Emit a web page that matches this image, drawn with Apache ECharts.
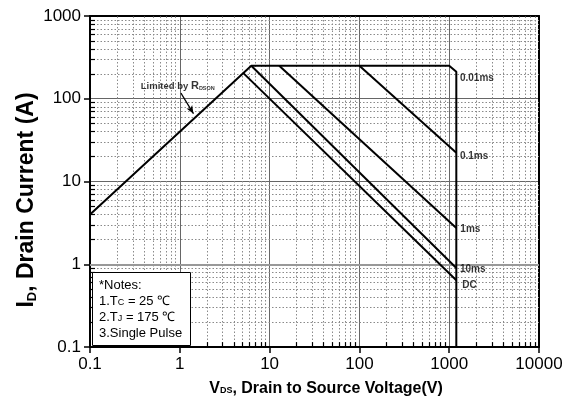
<!DOCTYPE html>
<html><head><meta charset="utf-8">
<script src="https://cdn.jsdelivr.net/npm/echarts@6/dist/echarts.min.js"></script>
<style>html,body{margin:0;padding:0;background:#fff}#c{width:578px;height:400px}</style>
</head><body><div id="c"></div>
<script>
// ---- data ----
const xTickLabels = ['0.1','1','10','100','1000','10000'];
const yTickLabels = ['0.1','1','10','100','1000'];
const decadesX = [0.1, 1, 10, 100, 1000];
const decadesY = [0.1, 1, 10, 100];
const minorMult = [2, 3, 4, 5, 6, 7, 8, 9];
const envelope = [[0.1, 4], [6.25, 250], [1000, 250], [1200, 212], [1200, 0.1]];
const line01ms = [[100, 250], [1200, 22.3]];
const line1ms = [[12.8, 250], [1200, 2.75]];
const line10ms = [[6.25, 250], [1200, 0.9]];
const lineDC = [[5.1, 204], [1200, 0.64]];
const curveLabels = [[1318, 176, '0.01ms'], [1318, 20.2, '0.1ms'], [1330, 2.65, '1ms'], [1318, 0.86, '10ms'], [1400, 0.56, 'DC']];
const rdsLabel = [0.95, 141];
const rdsArrow = [[1.03, 117], [1.42, 66]];

const FONT = '"Liberation Sans", Arial, sans-serif';
const chart = echarts.init(document.getElementById('c'), null, {renderer: 'canvas'});

const minorX = [], minorY = [];
decadesX.forEach(d => minorMult.forEach(m => minorX.push(+(d * m).toPrecision(3))));
decadesY.forEach(d => minorMult.forEach(m => minorY.push(+(d * m).toPrecision(3))));

const gridDots = [];
minorX.forEach(v => gridDots.push({xAxis: v}));
minorY.forEach(v => gridDots.push({yAxis: v}));

const ticks = [];
minorX.forEach(v => ticks.push([{coord: [v, 0.1]}, {coord: [v, 0.1145]}]));
minorY.forEach(v => ticks.push([{coord: [0.1, v]}, {coord: [0.1137, v]}]));

const lineStyle = {color: '#000', width: 2};
function lineSeries(data) {
  return {type: 'line', data: data, showSymbol: false, symbol: 'none', lineStyle: lineStyle, z: 5, silent: true, animation: false};
}

const logAxisBase = {
  type: 'log', logBase: 10,
  axisLine: {show: true, onZero: false, lineStyle: {color: '#000', width: 2}},
};

chart.setOption({
  animation: false,
  grid: {left: 90, right: 39, top: 16, bottom: 53, containLabel: false},
  xAxis: [
    Object.assign({}, logAxisBase, {
      min: 0.1, max: 10000, position: 'bottom',
      axisTick: {show: true, inside: false, length: 6, lineStyle: {color: '#000', width: 1.5}},
      axisLabel: {fontFamily: FONT, fontSize: 17, color: '#000', margin: 9,
        formatter: v => { const i = Math.round(Math.log10(v)) + 1; return xTickLabels[i] || ''; }},
      splitLine: {show: true, lineStyle: {color: '#666', width: 1}},
      minorTick: {show: false}, minorSplitLine: {show: false}
    }),
    Object.assign({}, logAxisBase, {
      min: 0.1, max: 10000, position: 'top',
      axisTick: {show: false}, axisLabel: {show: false}, splitLine: {show: false}
    })
  ],
  yAxis: [
    Object.assign({}, logAxisBase, {
      min: 0.1, max: 1000, position: 'left',
      axisTick: {show: true, inside: false, length: 6, lineStyle: {color: '#000', width: 1.5}},
      axisLabel: {fontFamily: FONT, fontSize: 17, color: '#000', margin: 9,
        formatter: v => { const i = Math.round(Math.log10(v)) + 1; return yTickLabels[i] || ''; }},
      splitLine: {show: true, lineStyle: {color: '#666', width: 1}},
      minorTick: {show: false}, minorSplitLine: {show: false}
    }),
    Object.assign({}, logAxisBase, {
      min: 0.1, max: 1000, position: 'right',
      axisTick: {show: false}, axisLabel: {show: false}, splitLine: {show: false}
    })
  ],
  series: [
    {
      type: 'line', data: [], silent: true, z: 1,
      markLine: {
        silent: true, symbol: ['none', 'none'], label: {show: false}, animation: false,
        lineStyle: {color: '#8a8a8a', width: 1, type: [1.5, 2]},
        data: gridDots
      }
    },
    {
      type: 'line', data: [], silent: true, z: 2,
      markLine: {
        silent: true, symbol: ['none', 'none'], label: {show: false}, animation: false,
        lineStyle: {color: '#999', width: 2, type: 'solid'},
        data: [{yAxis: 1}]
      }
    },
    {
      type: 'line', data: [], silent: true, z: 6,
      markLine: {
        silent: true, symbol: ['none', 'none'], label: {show: false}, animation: false,
        lineStyle: {color: '#000', width: 1.2, type: 'solid'},
        data: ticks
      }
    },
    lineSeries(envelope),
    lineSeries(line01ms),
    lineSeries(line1ms),
    lineSeries(line10ms),
    lineSeries(lineDC),
    {
      type: 'line', data: [], silent: true, z: 6,
      markLine: {
        silent: true, symbol: ['none', 'arrow'], symbolSize: [5, 8], label: {show: false}, animation: false,
        lineStyle: {color: '#000', width: 1.2, type: 'solid'},
        data: [[{coord: rdsArrow[0]}, {coord: rdsArrow[1]}]]
      }
    },
    {
      type: 'scatter', symbolSize: 0, silent: true, z: 7,
      data: curveLabels.map(d => ({value: [d[0], d[1]], name: d[2]})),
      label: {show: true, position: 'right', distance: 0, formatter: p => p.name,
        fontFamily: FONT, fontSize: 10, fontWeight: 'bold', color: '#000'}
    },
    {
      type: 'scatter', symbolSize: 0, silent: true, z: 7,
      data: [{value: rdsLabel}],
      label: {show: true, position: 'inside', formatter: 'Limited by {s|R}{sub|DSON}',
        fontFamily: FONT, fontSize: 9.5, fontWeight: 'bold', color: '#000',
        rich: {
          s: {fontFamily: FONT, fontSize: 11, fontWeight: 'bold', color: '#000'},
          sub: {fontFamily: FONT, fontSize: 5.5, fontWeight: 'bold', color: '#000', padding: [5, 0, 0, 0]}
        }}
    }
  ],
  graphic: [
    {
      type: 'rect', left: 92, top: 272, z: 100,
      shape: {width: 98, height: 73},
      style: {fill: '#fff', stroke: '#000', lineWidth: 1}
    },
    {
      type: 'text', left: 99, top: 277, z: 101,
      style: {
        text: '*Notes:\n1.T{sm|C} = 25 ℃\n2.T{sm|J} = 175 ℃\n3.Single Pulse',
        font: '13px "Liberation Sans", Arial, sans-serif', fill: '#000', lineHeight: 16,
        rich: {sm: {fontSize: 9, fontFamily: FONT, fill: '#000', padding: [3, 0, 0, 0]}}
      }
    },
    {
      type: 'text', x: 27, y: 200, rotation: Math.PI / 2, z: 101,
      style: {
        text: 'I{sub|D}, Drain Current (A)',
        font: 'bold 23px "Liberation Sans", Arial, sans-serif', fill: '#000',
        align: 'center', verticalAlign: 'middle',
        rich: {sub: {fontSize: 13, fontWeight: 'bold', fontFamily: FONT, fill: '#000', padding: [10, 0, 0, 0]}}
      }
    },
    {
      type: 'text', x: 326, y: 389, z: 101,
      style: {
        text: 'V{sub|DS}, Drain to Source Voltage(V)',
        font: 'bold 16px "Liberation Sans", Arial, sans-serif', fill: '#000',
        align: 'center', verticalAlign: 'middle',
        rich: {sub: {fontSize: 9, fontWeight: 'bold', fontFamily: FONT, fill: '#000', padding: [4, 0, 0, 0]}}
      }
    }
  ]
});
</script></body></html>
